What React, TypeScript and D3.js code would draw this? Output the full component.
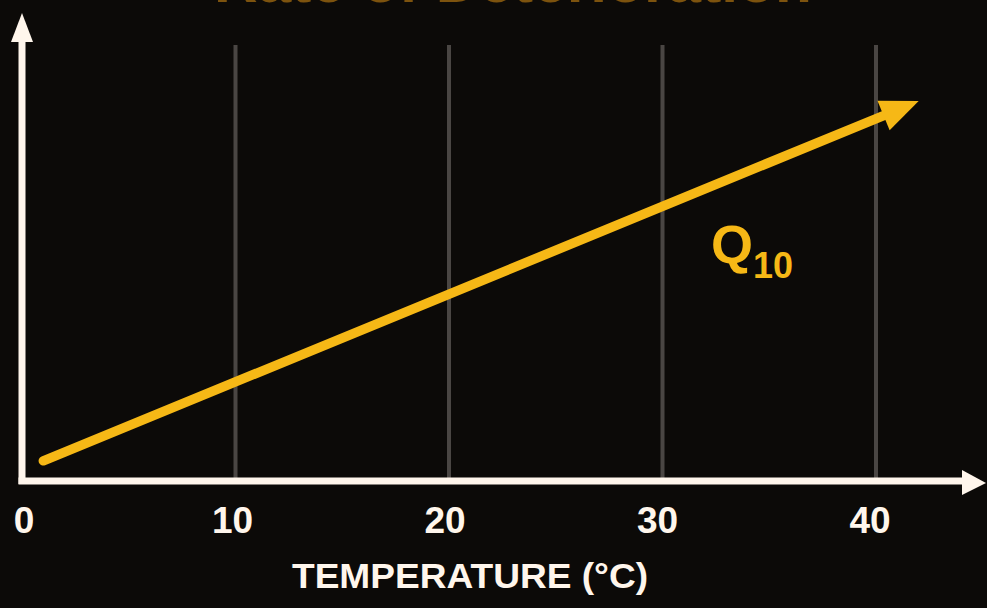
import React from "react";
import * as d3 from "d3";

const WIDTH = 987;
const HEIGHT = 608;

// Data
const tempTicks = [0, 10, 20, 30, 40];
const tickLabels = ["0", "10", "20", "30", "40"];
const gridTemps = [10, 20, 30, 40];
const lineTemps = [1.0, 42.0];
const lineRates = [4.3, 81];
const xAxisTitle = "TEMPERATURE (°C)";
const chartTitle = "Rate of Deterioration";
const seriesLabel = "Q";
const seriesSub = "10";

const FONT = "'Liberation Sans', Arial, Helvetica, sans-serif";

export default function App() {
  const x = d3.scaleLinear().domain([0, 40]).range([22, 876]);
  const y = d3.scaleLinear().domain([0, 100]).range([481, 12]);

  const pts = lineTemps.map((t, i) => [x(t), y(lineRates[i])] as [number, number]);
  const [p0, p1] = pts;
  const dx = p1[0] - p0[0];
  const dy = p1[1] - p0[1];
  const len = Math.sqrt(dx * dx + dy * dy);
  const ux = dx / len;
  const uy = dy / len;
  const headLen = 38;
  const headHalf = 16;
  const shaftEnd: [number, number] = [p1[0] - ux * (headLen - 6), p1[1] - uy * (headLen - 6)];
  const baseMid = [p1[0] - ux * headLen, p1[1] - uy * headLen];
  const c1 = [baseMid[0] + uy * headHalf, baseMid[1] - ux * headHalf];
  const c2 = [baseMid[0] - uy * headHalf, baseMid[1] + ux * headHalf];
  const line = d3.line<[number, number]>();
  const shaftPath = line([p0, shaftEnd]) || "";
  const headPath = `M${p1[0]},${p1[1]}L${c1[0]},${c1[1]}L${c2[0]},${c2[1]}Z`;

  const axisColor = "#fff6ec";
  const yellow = "#f6b816";
  const x0 = x(0);
  const yBase = y(0);

  return (
    <div style={{ position: "fixed", left: 0, top: 0, width: WIDTH, height: HEIGHT }}>
      <svg width={WIDTH} height={HEIGHT} style={{ display: "block" }}>
        <rect width={WIDTH} height={HEIGHT} fill="#0c0a08" />
        {/* Cut-off title (only its lower edge shows, as in the reference) */}
        <text
          x={513}
          y={1.5}
          textAnchor="middle"
          fontFamily={FONT}
          fontWeight="bold"
          fontSize={58}
          fill="#c98412"
          opacity={0.6}
          textLength={598}
          lengthAdjust="spacingAndGlyphs"
        >
          {chartTitle}
        </text>
        {/* Grid lines */}
        {gridTemps.map((t) => (
          <line
            key={t}
            x1={x(t)}
            x2={x(t)}
            y1={45}
            y2={yBase - 3}
            stroke="#4a4643"
            strokeWidth={4}
          />
        ))}
        {/* Y axis */}
        <line x1={x0} x2={x0} y1={yBase + 3} y2={40} stroke={axisColor} strokeWidth={7} />
        <path d={`M${x0},13L${x0 + 11},42L${x0 - 11},42Z`} fill={axisColor} />
        {/* X axis */}
        <line x1={x0 - 3.5} x2={965} y1={yBase} y2={yBase} stroke={axisColor} strokeWidth={7} />
        <path d={`M986,${yBase + 2}L962,${yBase - 11}L962,${yBase + 14}Z`} fill={axisColor} />
        {/* Tick labels */}
        {tempTicks.map((t, i) => (
          <text
            key={t}
            x={x(t) + (t === 0 ? 2 : -2 - t * 0.1)}
            y={533}
            textAnchor="middle"
            fontFamily={FONT}
            fontWeight="bold"
            fontSize={37}
            fill={axisColor}
          >
            {tickLabels[i]}
          </text>
        ))}
        {/* X axis title */}
        <text
          x={470}
          y={588}
          textAnchor="middle"
          fontFamily={FONT}
          fontWeight="bold"
          fontSize={35}
          fill={axisColor}
          textLength={356}
          lengthAdjust="spacingAndGlyphs"
        >
          {xAxisTitle}
        </text>
        {/* Arrow line */}
        <path d={shaftPath} stroke={yellow} strokeWidth={9.5} strokeLinecap="round" fill="none" />
        <path d={headPath} fill={yellow} />
        {/* Q10 label */}
        <text x={711} y={263} fontFamily={FONT} fontWeight="bold" fontSize={54} fill={yellow}>
          {seriesLabel}
          <tspan fontSize={36} dy={15}>
            {seriesSub}
          </tspan>
        </text>
      </svg>
    </div>
  );
}
